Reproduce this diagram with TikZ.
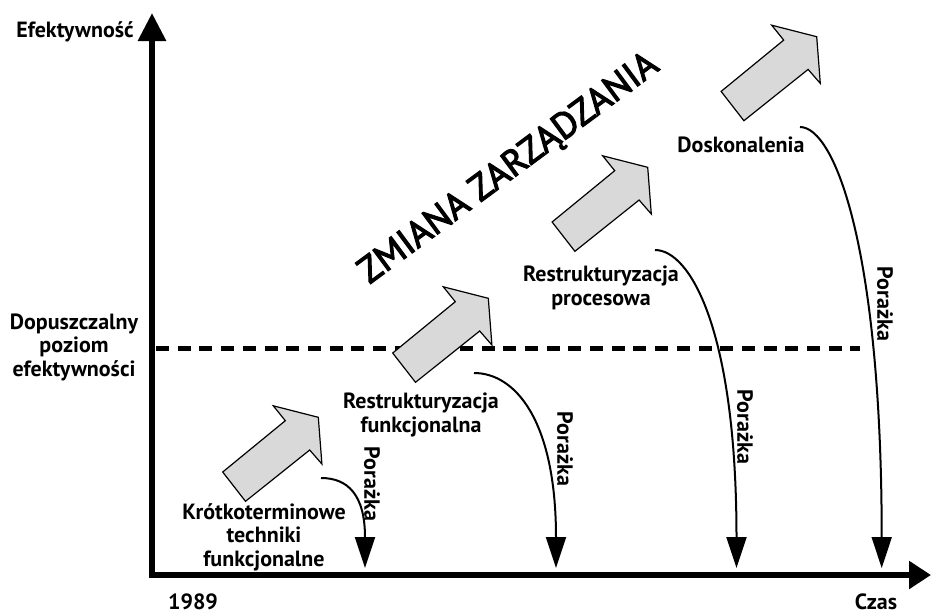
\documentclass[tikz,border=0pt]{standalone}
\usepackage{fontspec}
\setmainfont{PT Sans}
\newfontfamily\bigfam{PT Sans}[FakeBold=3]
\usetikzlibrary{arrows.meta}
\newcommand\lblfont{\fontsize{22}{23.5}\selectfont\bfseries}
\newcommand\bigfont{\bigfam\fontsize{36}{40}\selectfont}
\tikzset{
  lbl/.style={font=\lblfont, align=center, inner sep=0pt},
  axis/.style={line width=6pt, line join=miter,
    {Triangle[width=27pt,length=28pt]}-{Triangle[width=27pt,length=22pt]}},
  level/.style={line width=5pt, dash pattern=on 13pt off 8.7pt},
  fall/.style={line width=2pt, -{Triangle[width=20pt,length=31pt]}},
  blockarrow/.style={draw=black, line width=1.2pt, fill=black!15, line join=miter},
  upshift/.pic={
    \draw[blockarrow] (0,0) -- (-45,-11.5) -- (-33,3.4) -- (-95.6,54.7)
      -- (-72.8,84) -- (-8.6,32.7) -- (3.6,46.7) -- cycle;
  }
}
\begin{document}
\begin{tikzpicture}[x=1pt,y=-1pt]
\useasboundingbox (0,0) rectangle (931,614);

% axes
\coordinate (top) at (152,13);
\coordinate (origin) at (152,575);
\coordinate (right) at (931,575);
\draw[axis] (top) -- (origin) -- (right);

\node[lbl] (eff) at (75,32) {Efektywność};
\node[lbl, anchor=base] (czas) at (876,609) {Czas};
\node[lbl, anchor=base] (year) at (193,609) {1989};

% acceptable level
\coordinate (lvlL) at (156,348);
\coordinate (lvlR) at (860,348);
\draw[level] (lvlL) -- (lvlR);
\node[lbl] (accept) at (74,347) {Dopuszczalny\\poziom\\efektywności};

% improvement steps
\pic at (318.3,417.3) {upshift};
\pic at (488.3,298.3) {upshift};
\pic at (647.7,167.3) {upshift};
\pic at (816.7,36.7) {upshift};

\node[lbl] (k1) at (264,537) {Krótkoterminowe\\techniki\\funkcjonalne};
\node[lbl] (k2) at (421,415) {Restrukturyzacja\\funkcjonalna};
\node[lbl] (k3) at (601,288) {Restrukturyzacja\\procesowa};
\node[lbl] (k4) at (741,145) {Doskonalenia};

\node[font=\bigfont, inner sep=0pt, anchor=base, rotate=36.5] (zm) at (515,177)
  {\resizebox{362pt}{!}{ZMIANA ZARZĄDZANIA}};

% failures
\coordinate (s1) at (321,478);  \coordinate (e1) at (365,568);
\coordinate (s2) at (474,373);  \coordinate (e2) at (556,568);
\coordinate (s3) at (655,250);  \coordinate (e3) at (736.5,568);
\coordinate (s4) at (800,127);  \coordinate (e4) at (881.7,568);
\draw[fall] (s1) .. controls (348,478) and (365,495) .. (e1);
\draw[fall] (s2) .. controls (515,373) and (556,420) .. (e2);
\draw[fall] (s3) .. controls (690,250) and (736.5,330) .. (e3);
\draw[fall] (s4) .. controls (835,127) and (881.7,250) .. (e4);

\node[lbl, rotate=-90] (p1) at (372,484) {Porażka};
\node[lbl, rotate=-90] (p2) at (565,449) {Porażka};
\node[lbl, rotate=-90] (p3) at (745,427) {Porażka};
\node[lbl, rotate=-90] (p4) at (885,304) {Porażka};
\end{tikzpicture}
\end{document}
